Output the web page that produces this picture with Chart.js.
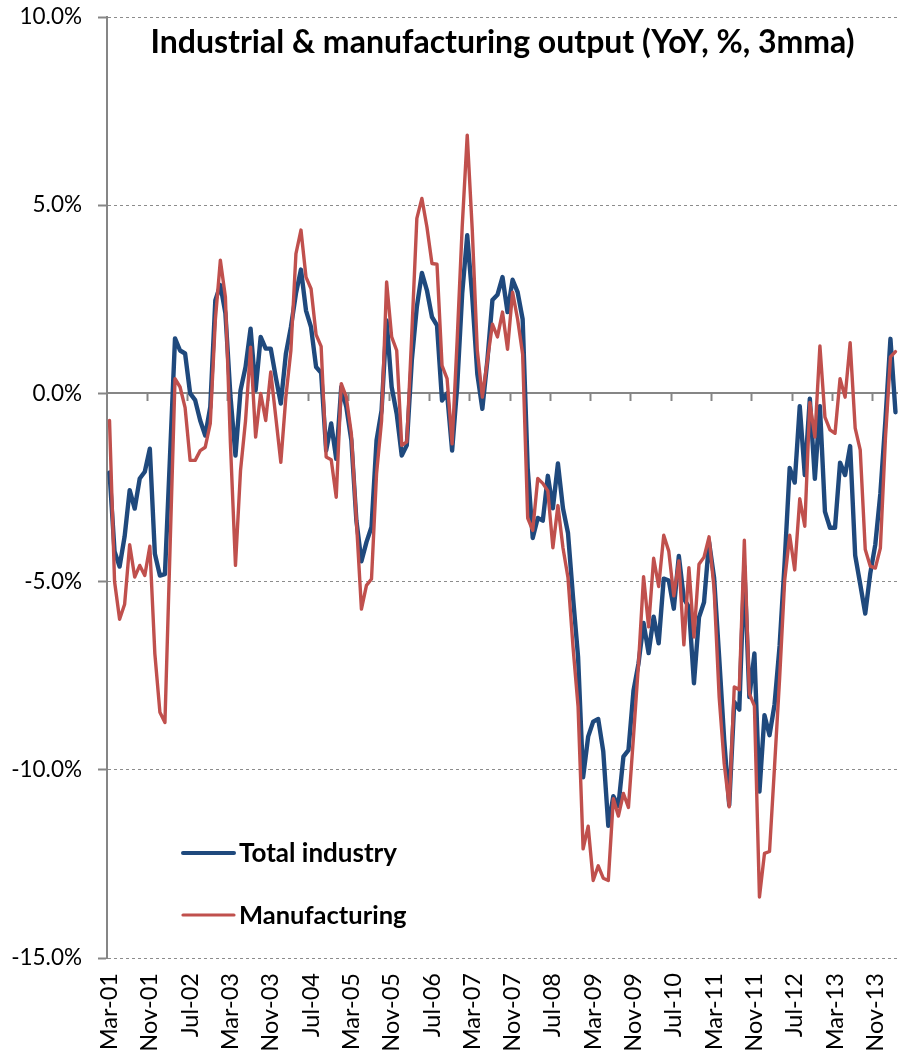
<!DOCTYPE html>
<html>
<head>
<meta charset="utf-8">
<script src="https://cdn.jsdelivr.net/npm/chart.js@4.4.1/dist/chart.umd.min.js"></script>
<style>
  html, body { margin: 0; padding: 0; background: #ffffff; overflow: hidden; }
  #wrap { position: relative; width: 898px; height: 1055px; }
</style>
</head>
<body>
<div id="wrap"><canvas id="c" width="898" height="1055"></canvas></div>
<script>
// ---------------- data ----------------
const chartTitle = 'Industrial & manufacturing output (YoY, %, 3mma)';
const seriesNames = ['Total industry', 'Manufacturing'];
const monthNames = ['Jan','Feb','Mar','Apr','May','Jun','Jul','Aug','Sep','Oct','Nov','Dec'];
const firstYear = 2001;
const firstMonth = 2; // March
const labelEvery = 8;

const totalIndustry = [
  -2.1, -4.2, -4.6, -3.8, -2.57, -3.06, -2.26, -2.08, -1.47, -4.26,
  -4.84, -4.8, -1.7, 1.46, 1.14, 1.06, 0.0, -0.18, -0.72, -1.12,
  -0.36, 2.47, 2.88, 2.13, -0.07, -1.65, 0.08, 0.7, 1.72, 0.08,
  1.5, 1.19, 1.19, 0.43, -0.27, 1.05, 1.76, 2.65, 3.29, 2.2,
  1.76, 0.7, 0.55, -1.52, -0.8, -1.74, 0.17, -0.36, -1.25, -3.38,
  -4.46, -3.95, -3.55, -1.25, -0.45, 1.94, 0.17, -0.54, -1.65, -1.38,
  0.88, 2.3, 3.2, 2.74, 2.03, 1.81, -0.19, 0.0, -1.52, 0.17,
  2.65, 4.2, 2.56, 0.52, -0.41, 0.88, 2.48, 2.62, 3.09, 2.16,
  3.02, 2.69, 1.97, -1.99, -3.84, -3.31, -3.38, -2.19, -3.05, -1.86,
  -3.05, -3.71, -5.42, -7.0, -10.2, -9.12, -8.72, -8.65, -9.51, -11.49,
  -10.7, -10.96, -9.65, -9.48, -7.9, -7.17, -6.1, -6.9, -5.93, -6.64,
  -4.92, -4.97, -5.72, -4.32, -5.45, -5.68, -7.7, -5.95, -5.55, -3.95,
  -4.9, -7.0, -9.2, -10.94, -8.2, -8.4, -4.6, -8.07, -6.91, -10.58,
  -8.55, -9.08, -8.26, -6.71, -4.49, -1.98, -2.37, -0.34, -2.17, -0.14,
  -2.27, -0.34, -3.14, -3.57, -3.57, -1.84, -2.17, -1.4, -4.3, -5.07,
  -5.85, -4.78, -4.01, -2.66, -0.72, 1.45, -0.5
];

const manufacturing = [
  -0.72, -5.0, -6.0, -5.6, -4.02, -4.88, -4.57, -4.84, -4.06, -6.92,
  -8.47, -8.74, -4.18, 0.39, 0.17, -0.38, -1.78, -1.78, -1.52, -1.43,
  -0.8, 1.94, 3.54, 2.56, -1.33, -4.57, -2.05, -0.72, 1.23, -1.16,
  0.0, -0.72, 0.57, -0.63, -1.83, -0.1, 1.14, 3.71, 4.34, 3.09,
  2.78, 1.56, 1.25, -1.69, -1.76, -2.76, 0.26, -0.1, -1.07, -3.38,
  -5.73, -5.1, -4.93, -2.14, -0.72, 2.96, 1.5, 1.14, -1.38, -1.29,
  1.59, 4.65, 5.18, 4.42, 3.45, 3.43, 0.74, 0.39, -1.34, 1.41,
  4.42, 6.86, 4.34, 1.14, -0.1, 0.88, 1.84, 1.5, 2.16, 1.17,
  2.69, 1.97, 1.04, -3.31, -3.64, -2.26, -2.39, -2.59, -4.1, -2.98,
  -4.1, -4.9, -6.74, -8.32, -12.1, -11.5, -12.94, -12.55, -12.88, -12.94,
  -10.77, -11.23, -10.63, -11.0, -9.12, -7.17, -4.87, -6.2, -4.38, -5.13,
  -3.77, -4.19, -5.38, -4.45, -6.68, -4.63, -6.47, -4.54, -4.35, -3.81,
  -5.2, -8.06, -9.83, -10.98, -7.8, -7.87, -3.9, -7.98, -8.3, -13.38,
  -12.22, -12.17, -9.9, -7.58, -4.98, -3.77, -4.69, -2.8, -3.53, -0.24,
  -1.16, 1.26, -0.63, -0.97, -1.06, 0.39, -0.1, 1.35, -0.92, -1.5,
  -4.15, -4.59, -4.64, -4.11, -1.21, 0.97, 1.11
];

const yMin = -15, yMax = 10, yStep = 5;

// category labels (months)
const categories = [];
for (let k = 0; k < totalIndustry.length; k++) {
  const m = firstMonth + k;
  const yr = firstYear + Math.floor(m / 12);
  categories.push(monthNames[m % 12] + '-' + String(yr % 100).padStart(2, '0'));
}

// ---------------- styles ----------------
const FONT = 'Lato, "Open Sans", "Noto Sans", sans-serif';
const BLUE = '#1F497D';
const RED = '#C0504D';
const AXIS = '#868686';

Chart.defaults.font.family = FONT;
Chart.defaults.color = '#000000';

const overlay = {
  id: 'overlay',
  afterDraw(chart) {
    const { ctx, chartArea } = chart;
    ctx.save();
    ctx.fillStyle = '#000000';
    ctx.font = 'bold 32px ' + FONT;
    ctx.textAlign = 'center';
    ctx.textBaseline = 'alphabetic';
    ctx.fillText(chartTitle, (chartArea.left + chartArea.right) / 2, 53);

    const rows = [853, 915];
    const sizes = [26, 25.5];
    chart.data.datasets.forEach((ds, k) => {
      const y = rows[k];
      ctx.strokeStyle = ds.borderColor;
      ctx.lineWidth = k === 0 ? 4 : 3.2;
      ctx.lineCap = 'round';
      ctx.beginPath();
      ctx.moveTo(183, y);
      ctx.lineTo(234, y);
      ctx.stroke();
      ctx.fillStyle = '#000000';
      ctx.font = 'bold ' + sizes[k] + 'px ' + FONT;
      ctx.textAlign = 'left';
      ctx.textBaseline = 'middle';
      ctx.fillText(ds.label, 239, y + 1);
    });
    ctx.restore();
  }
};

new Chart(document.getElementById('c'), {
  type: 'line',
  data: {
    labels: categories,
    datasets: [
      {
        label: seriesNames[0],
        data: totalIndustry,
        borderColor: BLUE,
        backgroundColor: BLUE,
        borderWidth: 4.4,
        pointRadius: 0,
        tension: 0,
        borderJoinStyle: 'round',
        borderCapStyle: 'round',
        order: 2
      },
      {
        label: seriesNames[1],
        data: manufacturing,
        borderColor: RED,
        backgroundColor: RED,
        borderWidth: 3.4,
        pointRadius: 0,
        tension: 0,
        borderJoinStyle: 'round',
        borderCapStyle: 'round',
        order: 1
      }
    ]
  },
  options: {
    responsive: false,
    animation: false,
    devicePixelRatio: 1,
    layout: { padding: { top: 17, right: 0, bottom: 0, left: 0 } },
    plugins: {
      legend: { display: false },
      title: { display: false },
      tooltip: { enabled: false }
    },
    scales: {
      x: {
        type: 'category',
        position: 'bottom',
        offset: true,
        grid: { display: false },
        border: { display: false },
        ticks: {
          autoSkip: false,
          minRotation: 90,
          maxRotation: 90,
          padding: 7,
          color: '#000000',
          font: { size: 23.5 },
          callback: function (value, index) {
            return index % labelEvery === 0 ? this.getLabelForValue(value) : '';
          }
        },
        afterFit(scale) {
          scale.height = 97;
          scale.paddingLeft = 0;
          scale.paddingRight = 0;
        }
      },
      x2: {
        type: 'category',
        axis: 'x',
        position: { y: 0 },
        offset: true,
        ticks: { display: false, autoSkip: false },
        grid: {
          display: true,
          offset: true,
          drawOnChartArea: false,
          drawTicks: true,
          tickLength: 7,
          tickWidth: 2,
          tickBorderDash: [],
          color: (c) => (c.index !== undefined && c.index % labelEvery === 0 && c.index > 0) ? AXIS : 'rgba(0,0,0,0)',
          tickColor: (c) => (c.index !== undefined && c.index % labelEvery === 0 && c.index > 0) ? AXIS : 'rgba(0,0,0,0)'
        },
        border: { display: true, color: AXIS, width: 2 },
        afterFit(scale) {
          scale.paddingLeft = 0;
          scale.paddingRight = 0;
        }
      },
      y: {
        type: 'linear',
        position: 'left',
        min: yMin,
        max: yMax,
        ticks: {
          stepSize: yStep,
          padding: 16,
          color: '#000000',
          font: { size: 22.5 },
          callback: (v) => v.toFixed(1) + '%'
        },
        grid: {
          drawTicks: true,
          tickLength: 9,
          lineWidth: 1,
          color: (c) => (c.tick && c.tick.value === 0) ? 'rgba(0,0,0,0)' : '#8c8c8c',
          tickColor: AXIS,
          tickWidth: 2,
          tickBorderDash: []
        },
        border: { display: true, color: AXIS, width: 2, dash: [3, 3] },
        afterFit(scale) {
          scale.width = 107;
          scale.paddingTop = 0;
          scale.paddingBottom = 0;
        }
      }
    }
  },
  plugins: [overlay]
});
</script>
</body>
</html>
